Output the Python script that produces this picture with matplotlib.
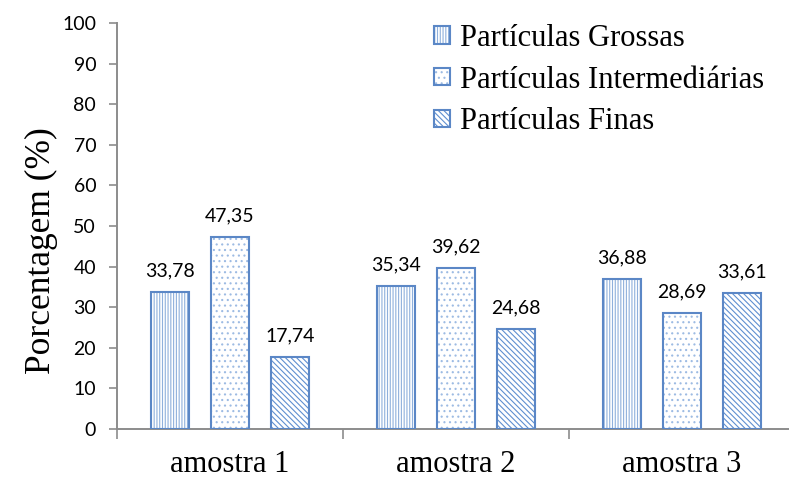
import numpy as np
import matplotlib
matplotlib.use("Agg")
import matplotlib.pyplot as plt
from matplotlib.ticker import MultipleLocator, FixedLocator

# data
categories = ['amostra 1', 'amostra 2', 'amostra 3']
series = ['Partículas Grossas', 'Partículas Intermediárias', 'Partículas Finas']
grossas = [33.78, 35.34, 36.88]
intermediarias = [47.35, 39.62, 28.69]
finas = [17.74, 24.68, 33.61]
values = [grossas, intermediarias, finas]
hatches = ['||||||', '...', '\\\\\\\\\\\\']
hatch_colors = ['#8FB0DC', '#9DBBE3', '#5F8FD0']

edge_blue = '#5B87C6'
axis_gray = '#8C8C8C'

plt.rcParams['hatch.linewidth'] = 0.8

fig = plt.figure(figsize=(7.89, 4.79), dpi=100)
ax = fig.add_axes([117 / 789, 50 / 479, 1 - 117 / 789, (429 - 23) / 479])

x = np.arange(len(categories))
width = 0.168
offsets = [-0.265, 0, 0.265]
handles = []
for vals, off, h, hc in zip(values, offsets, hatches, hatch_colors):
    b1 = ax.bar(x + off, vals, width, color='white', edgecolor=hc,
                hatch=h, linewidth=0, zorder=2)
    b2 = ax.bar(x + off, vals, width, fill=False, edgecolor=edge_blue,
                linewidth=1.5, zorder=3)
    handles.append((b1[0], b2[0]))
    for xi, v in zip(x + off, vals):
        ax.annotate(f'{v:.2f}'.replace('.', ','), (xi, v), xytext=(0, 9),
                    textcoords='offset points', ha='center', va='bottom',
                    fontsize=14, family='Lato', color='black')

ax.set_ylim(0, 100)
ax.set_xlim(-0.5, -0.5 + (789 - 117) / 226)
ax.yaxis.set_major_locator(MultipleLocator(10))
ax.set_xticks(x)
ax.set_xticklabels(categories, family='Liberation Serif', fontsize=22)
ax.xaxis.set_minor_locator(FixedLocator([-0.5, 0.5, 1.5, 2.5]))
ax.tick_params(axis='x', which='major', length=0, pad=15)
ax.tick_params(axis='x', which='minor', length=7, color=axis_gray, width=1.2)
ax.tick_params(axis='y', length=6, color=axis_gray, width=1.2, pad=9)
for lbl in ax.get_yticklabels():
    lbl.set_family('Lato')
    lbl.set_fontsize(14)

for s in ['top', 'right']:
    ax.spines[s].set_visible(False)
for s in ['left', 'bottom']:
    ax.spines[s].set_color(axis_gray)
    ax.spines[s].set_linewidth(1.4)

ax.set_ylabel('Porcentagem (%)', family='Liberation Serif', fontsize=25.5)
ax.yaxis.set_label_coords(-0.088, 0.44)

fig.legend(handles, series, loc='upper left', bbox_to_anchor=(413 / 789, 0.995),
           frameon=False, prop={'family': 'Liberation Serif', 'size': 22},
           handlelength=0.5, handleheight=0.5, handletextpad=0.35,
           labelspacing=0.42, borderaxespad=0.3)

fig.savefig('out.png', dpi=100)
